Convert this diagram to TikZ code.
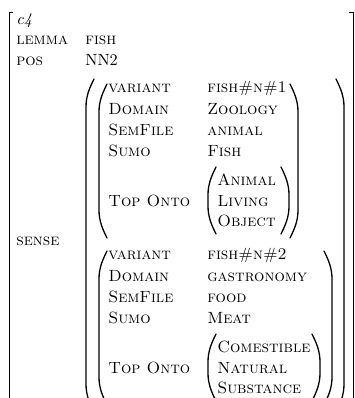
\documentclass[tikz,border=0pt]{standalone}
\usepackage{tikz}
\usetikzlibrary{positioning}

% round brackets: x of the outer edge, top, bottom
\newcommand{\avmlp}[3]{\draw[paren] (#1+8,#2) .. controls (#1+3.5,#2+9) and (#1,#2+17) .. (#1,#2+28) -- (#1,#3-28) .. controls (#1,#3-17) and (#1+3.5,#3-9) .. (#1+8,#3);}
\newcommand{\avmrp}[3]{\draw[paren] (#1-8,#2) .. controls (#1-3.5,#2+9) and (#1,#2+17) .. (#1,#2+28) -- (#1,#3-28) .. controls (#1,#3-17) and (#1-3.5,#3-9) .. (#1-8,#3);}

\tikzset{
  feat/.style={anchor=base west, inner sep=0pt, font=\scshape},
  plain/.style={anchor=base west, inner sep=0pt},
  paren/.style={line width=0.8pt, line cap=round},
  brack/.style={line width=0.5pt}
}

\begin{document}
\begin{tikzpicture}[x=0.615pt, y=-0.615pt]
    \clip (0,0) rectangle (355,398);

    % outer bracket
    \draw[brack] (13,12) -- (9,12) -- (9,420);
    \draw[brack] (349,12) -- (353,12) -- (353,420);

    % top level
    \node[plain] (tag) at (16,24) {\textit{c4}};
    \node[feat] (lemma) at (16,44) {lemma};
    \node[feat] (lemmaval) at (85,44) {fish};
    \node[feat] (pos) at (16,65) {pos};
    \node[plain] (posval) at (85,65) {NN2};
    \node[feat] (sense) at (16,245) {sense};

    % list of senses
    \avmlp{86}{79}{412}
    \avmrp{344}{79}{412}

    % Sense 1
    \avmlp{99}{84}{238}
    \avmrp{298}{84}{238}
    \node[feat] (var1) at (108,92) {variant};
    \node[feat] (dom1) at (108,114) {Domain};
    \node[feat] (sem1) at (108,135) {SemFile};
    \node[feat] (sumo1) at (108,156) {Sumo};
    \node[feat] (top1) at (108,206) {Top Onto};
    \node[feat] (var1val) at (207,92) {fish\#n\#1};
    \node[feat] (dom1val) at (207,114) {Zoology};
    \node[feat] (sem1val) at (207,135) {animal};
    \node[feat] (sumo1val) at (207,156) {Fish};
    \avmlp{208}{167}{234}
    \avmrp{289}{167}{234}
    \node[feat] (onto1a) at (217,185) {Animal};
    \node[feat] (onto1b) at (217,206) {Living};
    \node[feat] (onto1c) at (217,226) {Object};

    % Sense 2
    \avmlp{99}{251}{405}
    \avmrp{332}{251}{405}
    \node[feat] (var2) at (108,259) {variant};
    \node[feat] (dom2) at (108,281) {Domain};
    \node[feat] (sem2) at (108,302) {SemFile};
    \node[feat] (sumo2) at (108,323) {Sumo};
    \node[feat] (top2) at (108,373) {Top Onto};
    \node[feat] (var2val) at (207,259) {fish\#n\#2};
    \node[feat] (dom2val) at (207,281) {gastronomy};
    \node[feat] (sem2val) at (207,302) {food};
    \node[feat] (sumo2val) at (207,323) {Meat};
    \avmlp{208}{334}{401}
    \avmrp{320}{334}{401}
    \node[feat] (onto2a) at (217,352) {Comestible};
    \node[feat] (onto2b) at (217,373) {Natural};
    \node[feat] (onto2c) at (217,393) {Substance};
\end{tikzpicture}
\end{document}
